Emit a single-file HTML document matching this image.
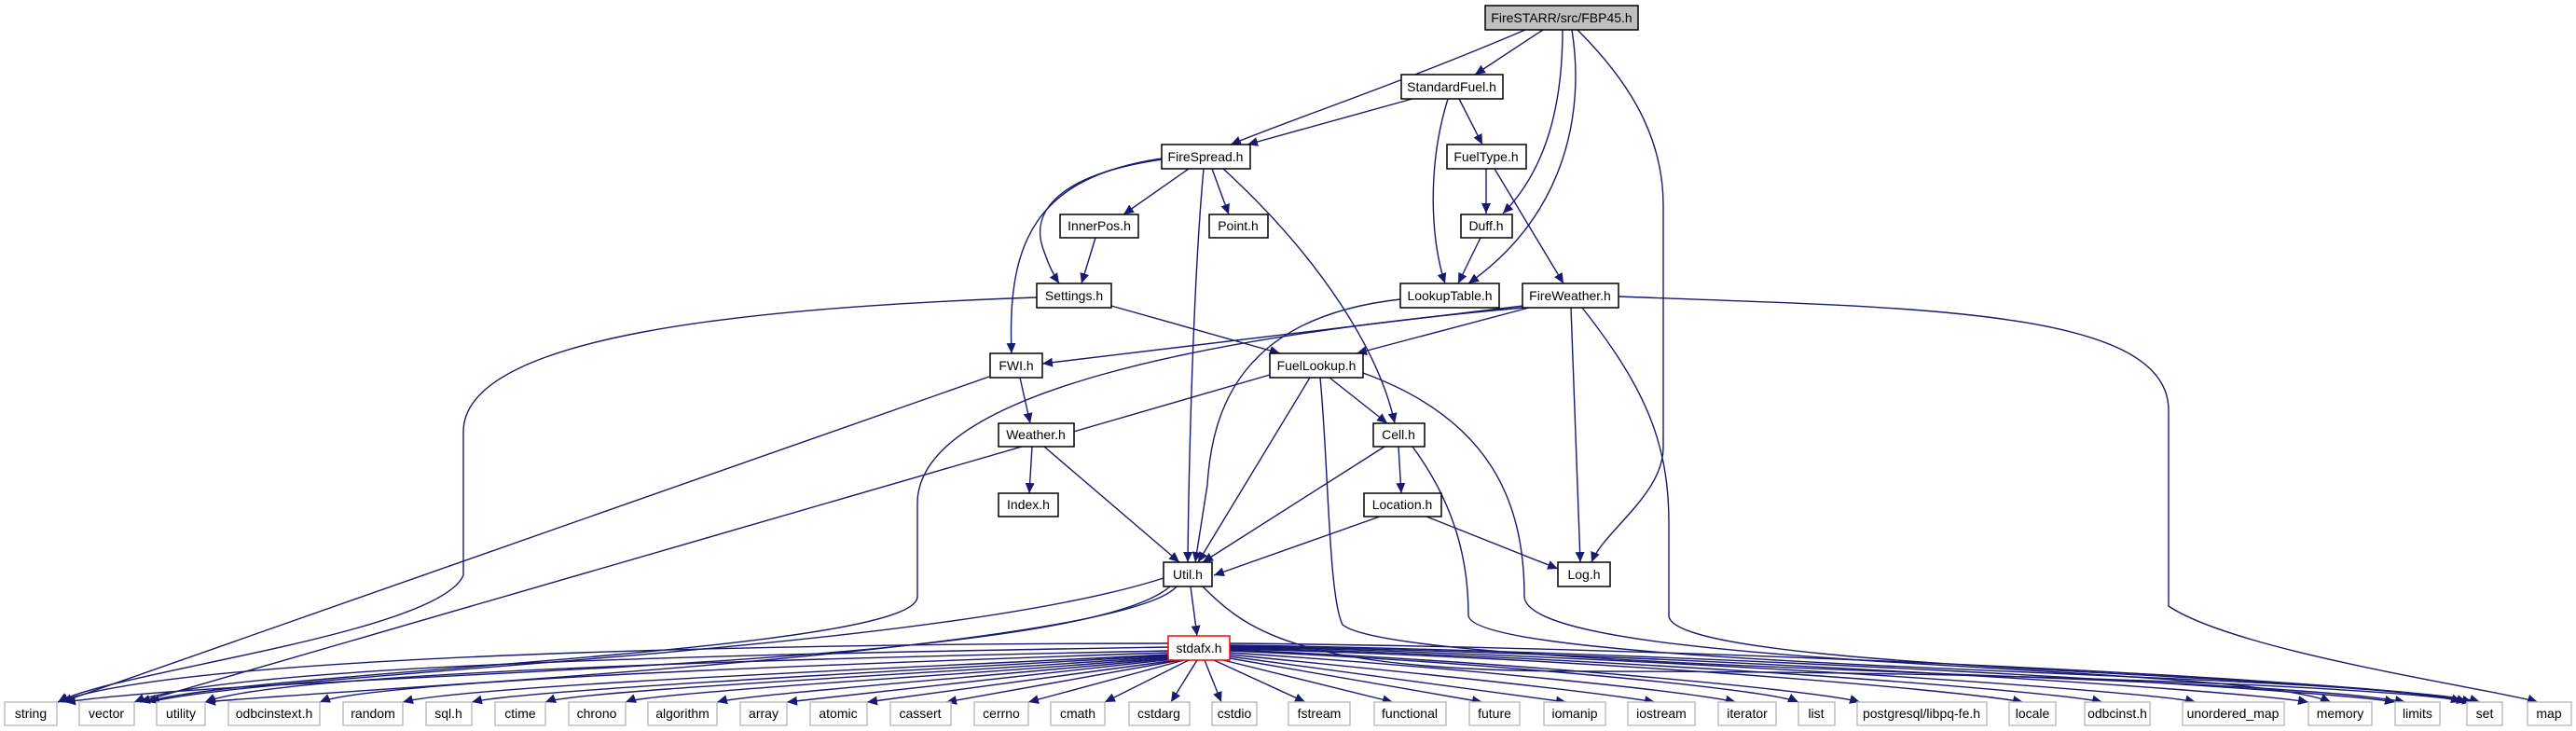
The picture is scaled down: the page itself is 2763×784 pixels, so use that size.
<!DOCTYPE html>
<html><head><meta charset="utf-8"><style>
html,body{margin:0;padding:0;background:#fff;width:2763px;height:784px;overflow:hidden}
svg{display:block}
text{font-family:"Liberation Sans",sans-serif;font-size:14px;fill:#000}
.e{fill:none;stroke:#191970;stroke-width:1.4}
.n{fill:#fff;stroke:#000;stroke-width:1.5}
.x{fill:#fff;stroke:#bfbfbf;stroke-width:1.5}
</style></head><body>
<svg width="2763" height="784" viewBox="0 0 2763 784" xmlns="http://www.w3.org/2000/svg">
<defs><marker id="a" markerWidth="12" markerHeight="10" refX="11" refY="5" orient="auto" markerUnits="userSpaceOnUse"><path d="M0,0 L11,5 L0,10 z" fill="#191970"/></marker></defs>
<g class="e" marker-end="url(#a)">
<!-- FireSTARR -->
<path d="M1636,32 C1500,90 1380,130 1320,155"/>
<path d="M1655,32 L1582,80"/>
<path d="M1676,32 C1676,110 1660,180 1612,229"/>
<path d="M1686,32 C1700,120 1680,230 1575,304"/>
<path d="M1692,32 C1740,80 1784,140 1784,220 L1784,480 C1784,530 1720,570 1707,603"/>
<!-- StandardFuel -->
<path d="M1515,106 L1338,155"/>
<path d="M1553,106 C1530,180 1535,260 1550,304"/>
<path d="M1565,106 L1590,155"/>
<path d="M1594,181 L1594,229"/>
<path d="M1603,181 L1677,304"/>
<path d="M1588,255 L1564,304"/>
<!-- FireSpread -->
<path d="M1275,181 L1205,230"/>
<path d="M1300,181 L1318,230"/>
<path d="M1246,171 C1150,185 1100,220 1120,270 C1125,285 1130,295 1136,304"/>
<path d="M1246,170 C1110,190 1080,260 1085,379"/>
<path d="M1291,181 C1280,300 1275,500 1274,603"/>
<path d="M1312,181 C1420,280 1480,380 1496,454"/>
<path d="M1175,255 L1160,304"/>
<!-- Settings -->
<path d="M1192,328 L1373,379"/>
<path d="M1112,319 C800,330 497,360 497,463 L497,617 C470,680 120,720 62,753"/>
<!-- LookupTable -->
<path d="M1502,321 C1330,340 1300,440 1295,520 L1282,603"/>
<!-- FireWeather -->
<path d="M1634,328 L1118,390"/>
<path d="M1640,330 L1455,379"/>
<path d="M1634,330 C1300,360 984,420 984,540 L984,640 C984,700 260,720 157,753"/>
<path d="M1685,330 L1695,603"/>
<path d="M1697,330 C1760,410 1790,470 1790,560 L1790,660 C1790,720 2500,720 2652,753"/>
<path d="M1736,318 C2050,330 2326,330 2326,440 L2326,650 C2400,700 2680,740 2722,753"/>
<!-- FWI -->
<path d="M1094,405 L1105,454"/>
<path d="M1061,404 L66,753"/>
<!-- FuelLookup -->
<path d="M1362,402 L150,753"/>
<path d="M1426,405 L1488,454"/>
<path d="M1405,405 L1285,603"/>
<path d="M1416,405 C1425,500 1425,640 1440,670 C1500,720 2400,720 2580,753"/>
<path d="M1462,400 C1600,450 1635,540 1635,640 C1640,720 2400,710 2500,753"/>
<!-- Cell -->
<path d="M1500,479 L1503,529"/>
<path d="M1485,479 L1290,603"/>
<path d="M1515,479 C1560,540 1575,600 1575,660 C1580,720 2550,720 2640,753"/>
<!-- Weather -->
<path d="M1107,479 L1104,529"/>
<path d="M1120,479 L1265,603"/>
<!-- Location -->
<path d="M1480,554 L1302,617"/>
<path d="M1530,554 L1671,610"/>
<!-- Util -->
<path d="M1277,629 L1284,682"/>
<path d="M1248,620 C1000,700 300,720 160,753"/>
<path d="M1255,629 C1150,720 300,720 70,753"/>
<path d="M1262,629 C1200,700 350,740 220,753"/>
<path d="M1290,629 C1340,680 1400,720 1700,720 C2200,720 2600,740 2646,753"/>
<!-- stdafx -->
<path d="M1253,690 C900,690 200,700 62,753"/>
<path d="M1253,694 C900,700 250,710 144,753"/>
<path d="M1253,698 C900,705 300,720 220,753"/>
<path d="M1253,700 C900,712 400,730 343,753"/>
<path d="M1253,702 C1000,715 500,735 432,753"/>
<path d="M1253,703 C1000,718 560,740 506,753"/>
<path d="M1253,704 C1050,720 620,740 585,753"/>
<path d="M1253,705 C1100,720 700,742 671,753"/>
<path d="M1256,706 C1100,722 800,745 769,753"/>
<path d="M1258,707 L844,753"/>
<path d="M1262,708 L930,753"/>
<path d="M1266,708 L1015,753"/>
<path d="M1270,708 L1103,753"/>
<path d="M1275,708 L1185,753"/>
<path d="M1284,708 L1256,753"/>
<path d="M1292,708 L1310,753"/>
<path d="M1302,708 L1400,753"/>
<path d="M1312,708 L1494,753"/>
<path d="M1319,706 L1590,753"/>
<path d="M1319,704 L1680,753"/>
<path d="M1319,702 C1500,720 1700,740 1775,753"/>
<path d="M1319,700 C1550,715 1800,740 1862,753"/>
<path d="M1319,698 C1600,710 1900,740 1929,753"/>
<path d="M1319,697 C1600,708 1950,740 1995,753"/>
<path d="M1319,696 C1700,705 2100,740 2170,753"/>
<path d="M1319,695 C1700,703 2200,740 2255,753"/>
<path d="M1319,694 C1700,700 2300,740 2355,753"/>
<path d="M1319,693 C1800,700 2400,740 2476,753"/>
<path d="M1319,692 C1800,698 2500,740 2569,753"/>
<path d="M1319,690 C1900,695 2600,735 2660,753"/>
</g>
<!-- internal nodes -->
<g>
<rect x="1593" y="6" width="164" height="26" fill="#bfbfbf" stroke="#000" stroke-width="1.5"/>
<text x="1675" y="24" text-anchor="middle">FireSTARR/src/FBP45.h</text>
<rect class="n" x="1503" y="80" width="109" height="26"/><text x="1557" y="98" text-anchor="middle">StandardFuel.h</text>
<rect class="n" x="1246" y="155" width="95" height="26"/><text x="1293" y="173" text-anchor="middle">FireSpread.h</text>
<rect class="n" x="1552" y="155" width="85" height="26"/><text x="1594" y="173" text-anchor="middle">FuelType.h</text>
<rect class="n" x="1137" y="230" width="84" height="25"/><text x="1179" y="247" text-anchor="middle">InnerPos.h</text>
<rect class="n" x="1297" y="230" width="63" height="25"/><text x="1328" y="247" text-anchor="middle">Point.h</text>
<rect class="n" x="1567" y="230" width="55" height="25"/><text x="1594" y="247" text-anchor="middle">Duff.h</text>
<rect class="n" x="1112" y="304" width="80" height="26"/><text x="1152" y="322" text-anchor="middle">Settings.h</text>
<rect class="n" x="1502" y="304" width="106" height="26"/><text x="1555" y="322" text-anchor="middle">LookupTable.h</text>
<rect class="n" x="1633" y="304" width="103" height="26"/><text x="1684" y="322" text-anchor="middle">FireWeather.h</text>
<rect class="n" x="1062" y="379" width="56" height="26"/><text x="1090" y="397" text-anchor="middle">FWI.h</text>
<rect class="n" x="1362" y="379" width="100" height="26"/><text x="1412" y="397" text-anchor="middle">FuelLookup.h</text>
<rect class="n" x="1071" y="454" width="81" height="25"/><text x="1111" y="471" text-anchor="middle">Weather.h</text>
<rect class="n" x="1473" y="454" width="55" height="25"/><text x="1500" y="471" text-anchor="middle">Cell.h</text>
<rect class="n" x="1071" y="529" width="64" height="25"/><text x="1103" y="546" text-anchor="middle">Index.h</text>
<rect class="n" x="1463" y="529" width="83" height="25"/><text x="1504" y="546" text-anchor="middle">Location.h</text>
<rect class="n" x="1248" y="603" width="52" height="26"/><text x="1274" y="621" text-anchor="middle">Util.h</text>
<rect class="n" x="1671" y="603" width="56" height="26"/><text x="1699" y="621" text-anchor="middle">Log.h</text>
<rect x="1253" y="682" width="66" height="26" fill="#fff" stroke="#ff0000" stroke-width="1.5"/><text x="1286" y="700" text-anchor="middle">stdafx.h</text>
</g>
<!-- external nodes -->
<g>
<rect class="x" x="5" y="753" width="56" height="25"/><text x="33" y="770" text-anchor="middle">string</text>
<rect class="x" x="85" y="753" width="59" height="25"/><text x="114" y="770" text-anchor="middle">vector</text>
<rect class="x" x="168" y="753" width="52" height="25"/><text x="194" y="770" text-anchor="middle">utility</text>
<rect class="x" x="245" y="753" width="98" height="25"/><text x="294" y="770" text-anchor="middle">odbcinstext.h</text>
<rect class="x" x="368" y="753" width="64" height="25"/><text x="400" y="770" text-anchor="middle">random</text>
<rect class="x" x="457" y="753" width="49" height="25"/><text x="481" y="770" text-anchor="middle">sql.h</text>
<rect class="x" x="531" y="753" width="54" height="25"/><text x="558" y="770" text-anchor="middle">ctime</text>
<rect class="x" x="610" y="753" width="61" height="25"/><text x="640" y="770" text-anchor="middle">chrono</text>
<rect class="x" x="695" y="753" width="74" height="25"/><text x="732" y="770" text-anchor="middle">algorithm</text>
<rect class="x" x="794" y="753" width="50" height="25"/><text x="819" y="770" text-anchor="middle">array</text>
<rect class="x" x="869" y="753" width="61" height="25"/><text x="899" y="770" text-anchor="middle">atomic</text>
<rect class="x" x="955" y="753" width="65" height="25"/><text x="987" y="770" text-anchor="middle">cassert</text>
<rect class="x" x="1045" y="753" width="58" height="25"/><text x="1074" y="770" text-anchor="middle">cerrno</text>
<rect class="x" x="1127" y="753" width="58" height="25"/><text x="1156" y="770" text-anchor="middle">cmath</text>
<rect class="x" x="1211" y="753" width="65" height="25"/><text x="1243" y="770" text-anchor="middle">cstdarg</text>
<rect class="x" x="1300" y="753" width="48" height="25"/><text x="1324" y="770" text-anchor="middle">cstdio</text>
<rect class="x" x="1382" y="753" width="66" height="25"/><text x="1415" y="770" text-anchor="middle">fstream</text>
<rect class="x" x="1474" y="753" width="77" height="25"/><text x="1512" y="770" text-anchor="middle">functional</text>
<rect class="x" x="1576" y="753" width="54" height="25"/><text x="1603" y="770" text-anchor="middle">future</text>
<rect class="x" x="1656" y="753" width="66" height="25"/><text x="1689" y="770" text-anchor="middle">iomanip</text>
<rect class="x" x="1746" y="753" width="72" height="25"/><text x="1782" y="770" text-anchor="middle">iostream</text>
<rect class="x" x="1843" y="753" width="62" height="25"/><text x="1874" y="770" text-anchor="middle">iterator</text>
<rect class="x" x="1929" y="753" width="39" height="25"/><text x="1948" y="770" text-anchor="middle">list</text>
<rect class="x" x="1992" y="753" width="139" height="25"/><text x="2061" y="770" text-anchor="middle">postgresql/libpq-fe.h</text>
<rect class="x" x="2155" y="753" width="50" height="25"/><text x="2180" y="770" text-anchor="middle">locale</text>
<rect class="x" x="2236" y="753" width="70" height="25"/><text x="2271" y="770" text-anchor="middle">odbcinst.h</text>
<rect class="x" x="2341" y="753" width="109" height="25"/><text x="2395" y="770" text-anchor="middle">unordered_map</text>
<rect class="x" x="2476" y="753" width="68" height="25"/><text x="2510" y="770" text-anchor="middle">memory</text>
<rect class="x" x="2569" y="753" width="48" height="25"/><text x="2593" y="770" text-anchor="middle">limits</text>
<rect class="x" x="2646" y="753" width="38" height="25"/><text x="2665" y="770" text-anchor="middle">set</text>
<rect class="x" x="2711" y="753" width="47" height="25"/><text x="2734" y="770" text-anchor="middle">map</text>
</g>
</svg>
</body></html>
